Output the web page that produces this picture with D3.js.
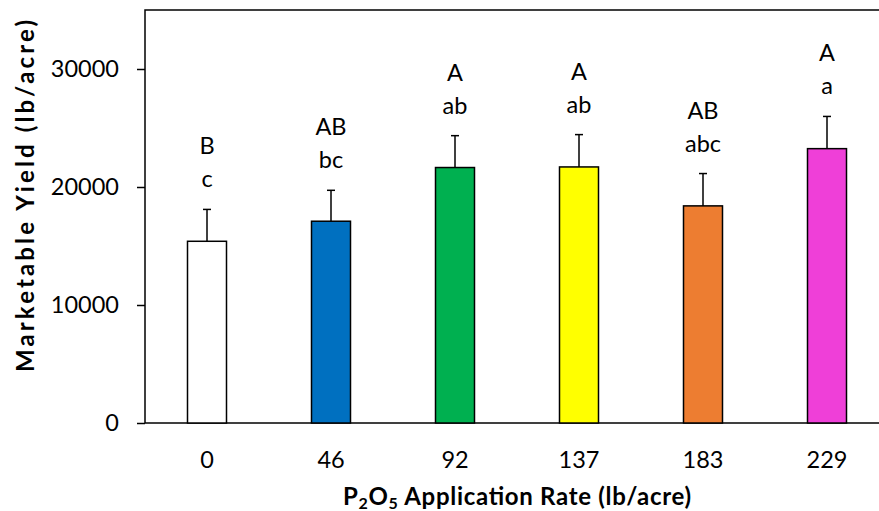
<!DOCTYPE html>
<html>
<head>
<meta charset="utf-8">
<script src="https://cdn.jsdelivr.net/npm/d3@7/dist/d3.min.js"></script>
<style>
  html, body { margin: 0; padding: 0; background: #fff; }
  svg { display: block; }
  text { font-family: Lato, "Open Sans", sans-serif; fill: #000; }
</style>
</head>
<body>
<svg id="chart" width="879" height="511"></svg>
<script>
// P2O5 application rates (lb/acre)
const rates = ["0", "46", "92", "137", "183", "229"];
// Mean marketable yield (lb/acre)
const yieldMeans = [15400, 17100, 21650, 21700, 18400, 23250];
// Standard error of the mean
const yieldErrors = [2700, 2620, 2700, 2740, 2740, 2730];
// Mean separation letters (upper line, lower line)
const lettersUpper = ["B", "AB", "A", "A", "AB", "A"];
const lettersLower = ["c", "bc", "ab", "ab", "abc", "a"];
// Bar fills
const barColors = ["#FFFFFF", "#0070C0", "#00B050", "#FFFF00", "#ED7D31", "#EF3FD8"];
// Y axis ticks
const yTicks = [0, 10000, 20000, 30000];

const svg = d3.select("#chart");
const plot = { left: 145, top: 10, right: 889, bottom: 423 };

const x = d3.scaleBand()
  .domain(rates)
  .range([plot.left, plot.right])
  .paddingInner(0.6855)
  .paddingOuter(0.34275);

const y = d3.scaleLinear()
  .domain([0, 35000])
  .range([plot.bottom, plot.top]);

const data = rates.map((r, i) => ({
  rate: r, mean: yieldMeans[i], err: yieldErrors[i],
  up: lettersUpper[i], low: lettersLower[i], color: barColors[i]
}));

// Plot frame
svg.append("rect")
  .attr("x", plot.left).attr("y", plot.top)
  .attr("width", plot.right - plot.left).attr("height", plot.bottom - plot.top)
  .attr("fill", "none").attr("stroke", "#000").attr("stroke-width", 1.5);

// Y axis
const yAxis = svg.append("g")
  .attr("transform", `translate(${plot.left},0)`)
  .call(d3.axisLeft(y).tickValues(yTicks).tickSize(8).tickPadding(18).tickFormat(d3.format("d")));
yAxis.select(".domain").remove();
yAxis.selectAll(".tick line").attr("stroke", "#000").attr("stroke-width", 1.5);
yAxis.selectAll(".tick text").style("font-size", "23.5px").attr("font-family", null);

// X axis labels
const xAxis = svg.append("g")
  .attr("transform", `translate(0,${plot.bottom})`)
  .call(d3.axisBottom(x).tickSize(0).tickPadding(28));
xAxis.select(".domain").remove();
xAxis.selectAll(".tick text").style("font-size", "23.5px").attr("font-family", null);

// Error bars (upper only)
const eb = svg.append("g").attr("stroke", "#000").attr("stroke-width", 1.5);
data.forEach(d => {
  const cx = x(d.rate) + x.bandwidth() / 2;
  eb.append("line")
    .attr("x1", cx).attr("x2", cx)
    .attr("y1", y(d.mean)).attr("y2", y(d.mean + d.err));
  eb.append("line")
    .attr("x1", cx - 4).attr("x2", cx + 4)
    .attr("y1", y(d.mean + d.err)).attr("y2", y(d.mean + d.err));
});

// Bars
svg.append("g").selectAll("rect")
  .data(data).join("rect")
  .attr("x", d => x(d.rate))
  .attr("y", d => y(d.mean))
  .attr("width", x.bandwidth())
  .attr("height", d => y(0) - y(d.mean))
  .attr("fill", d => d.color)
  .attr("stroke", "#000").attr("stroke-width", 1.5);

// Mean separation letters
const lab = svg.append("g").attr("text-anchor", "middle").style("font-size", "23.5px");
data.forEach(d => {
  const cx = x(d.rate) + x.bandwidth() / 2;
  const top = y(d.mean + d.err);
  lab.append("text").attr("x", cx).attr("y", top - 22).text(d.low);
  lab.append("text").attr("x", cx).attr("y", top - 55).text(d.up);
});

// Axis titles
svg.append("text")
  .attr("transform", "translate(34,196) rotate(-90)")
  .attr("text-anchor", "middle")
  .attr("textLength", 352).attr("lengthAdjust", "spacing")
  .style("font-size", "24px").style("font-weight", "bold")
  .text("Marketable Yield (lb/acre)");

const xt = svg.append("text")
  .attr("x", 517).attr("y", 505)
  .attr("text-anchor", "middle")
  .attr("textLength", 348).attr("lengthAdjust", "spacing")
  .style("font-size", "24px").style("font-weight", "bold");
xt.append("tspan").text("P");
xt.append("tspan").attr("dy", 3.5).style("font-size", "16px").text("2");
xt.append("tspan").attr("dy", -3.5).text("O");
xt.append("tspan").attr("dy", 3.5).style("font-size", "16px").text("5");
xt.append("tspan").attr("dy", -3.5).text(" Application Rate (lb/acre)");
</script>
</body>
</html>
